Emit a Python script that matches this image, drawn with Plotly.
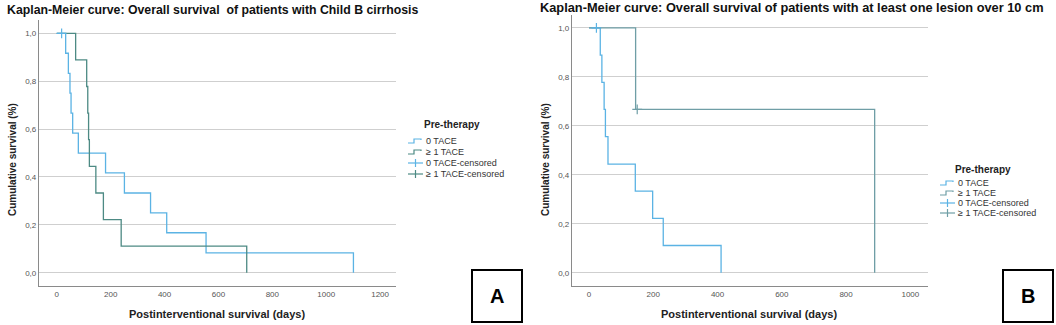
import plotly.graph_objects as go

W, H = 1056, 325

# ---------------- data ----------------
# Panel A: Child B cirrhosis
a_tace0_days = [0, 33, 43, 49, 53, 59, 80, 181, 251, 348, 408, 554, 1101]
a_tace0_surv = [1.0, 0.917, 0.833, 0.75, 0.667, 0.583, 0.5, 0.417, 0.333, 0.25, 0.167, 0.083, 0.0]
a_tace0_cens_days = [18]
a_tace0_cens_surv = [1.0]
a_tace1_days = [0, 70, 111, 115, 118, 121, 145, 173, 239, 705]
a_tace1_surv = [1.0, 0.889, 0.778, 0.667, 0.556, 0.444, 0.333, 0.222, 0.111, 0.0]

# Panel B: at least one lesion over 10 cm
b_tace0_days = [0, 35, 40, 47, 51, 59, 144, 198, 231, 411]
b_tace0_surv = [1.0, 0.889, 0.778, 0.667, 0.556, 0.444, 0.333, 0.222, 0.111, 0.0]
b_tace0_cens_days = [23]
b_tace0_cens_surv = [1.0]
b_tace1_days = [0, 145, 889]
b_tace1_surv = [1.0, 0.667, 0.0]
b_tace1_cens_days = [150]
b_tace1_cens_surv = [0.667]

y_tickvals = [0.0, 0.2, 0.4, 0.6, 0.8, 1.0]
y_ticktext = ["0,0", "0,2", "0,4", "0,6", "0,8", "1,0"]
a_xticks = [0, 200, 400, 600, 800, 1000, 1200]
b_xticks = [0, 200, 400, 600, 800, 1000]
legend_labels = ["0 TACE", "\u2265 1 TACE", "0 TACE-censored", "\u2265 1 TACE-censored"]

BLUE = "#5bb3e4"
GREEN_A = "#4d8a84"
GREEN_B = "#6f9ea6"
GRID = "#cfcfcf"
AXIS = "#8a8a8a"
FONT = "Liberation Sans, Arial, sans-serif"


def px(x):
    return x / W


def py(y):
    return 1 - y / H


fig = go.Figure()


def step(xs, ys, color, xa, ya):
    fig.add_trace(go.Scatter(x=xs, y=ys, mode="lines", line=dict(color=color, width=1.3, shape="hv"),
                             xaxis=xa, yaxis=ya, showlegend=False, hoverinfo="skip"))


def cens(xs, ys, color, xa, ya):
    fig.add_trace(go.Scatter(x=xs, y=ys, mode="markers",
                             marker=dict(symbol="cross-thin", size=7, line=dict(color=color, width=1.2)),
                             xaxis=xa, yaxis=ya, showlegend=False, hoverinfo="skip"))


step(a_tace0_days, a_tace0_surv, BLUE, "x", "y")
step(a_tace1_days, a_tace1_surv, GREEN_A, "x", "y")
cens(a_tace0_cens_days, a_tace0_cens_surv, BLUE, "x", "y")

step(b_tace0_days, b_tace0_surv, BLUE, "x2", "y2")
step(b_tace1_days, b_tace1_surv, GREEN_B, "x2", "y2")
cens(b_tace0_cens_days, b_tace0_cens_surv, BLUE, "x2", "y2")
cens(b_tace1_cens_days, b_tace1_cens_surv, GREEN_B, "x2", "y2")

tickfont = dict(family=FONT, size=8, color="#555555")
common_x = dict(showgrid=False, zeroline=False, showline=True, linecolor=AXIS, linewidth=1.3,
                ticks="", tickfont=tickfont, fixedrange=True)
common_y = dict(showgrid=True, gridcolor=GRID, gridwidth=1.3, zeroline=False, showline=True,
                linecolor=AXIS, linewidth=1.3, ticks="", tickfont=tickfont,
                tickvals=y_tickvals, ticktext=y_ticktext, fixedrange=True)

fig.update_layout(
    width=W, height=H,
    margin=dict(l=0, r=0, t=0, b=0),
    paper_bgcolor="white", plot_bgcolor="white",
    showlegend=False,
    xaxis=dict(common_x, domain=[px(39), px(396)], range=[-66, 1259], tickvals=a_xticks, anchor="y"),
    yaxis=dict(common_y, domain=[py(286), py(20)], range=[-0.0556, 1.056], anchor="x"),
    xaxis2=dict(common_x, domain=[px(572), px(928)], range=[-53, 1055], tickvals=b_xticks, anchor="y2"),
    yaxis2=dict(common_y, domain=[py(286), py(15)], range=[-0.0544, 1.053], anchor="x2"),
)

ann = []
shapes = []


def text(x, y, s, size, bold=False, xanchor="center", angle=0, color="#222222"):
    ann.append(dict(x=px(x), y=py(y), xref="paper", yref="paper", text=("<b>%s</b>" % s) if bold else s,
                    showarrow=False, xanchor=xanchor, yanchor="middle", textangle=angle,
                    font=dict(family=FONT, size=size, color=color)))


# titles
text(5, 10, "Kaplan-Meier curve: Overall survival  of patients with Child B cirrhosis", 12.3, True, "left", color="#111111")
text(538, 8, "Kaplan-Meier curve: Overall survival of patients with at least one lesion over 10 cm", 12.8, True, "left", color="#111111")
# axis titles
text(217, 314, "Postinterventional survival (days)", 11, True)
text(749, 314, "Postinterventional survival (days)", 11, True)
text(12, 160, "Cumulative survival (%)", 10, True, angle=-90)
text(545, 160, "Cumulative survival (%)", 10, True, angle=-90)


def legend(cx_title, ty, x0, rows, colors):
    text(cx_title, ty, "Pre-therapy", 10, True)
    for i, (lab, yy) in enumerate(zip(legend_labels, rows)):
        c = colors[i]
        if i < 2:
            path = "M %f %f L %f %f L %f %f L %f %f L %f %f" % (
                px(x0), py(yy + 2), px(x0 + 6), py(yy + 2), px(x0 + 6), py(yy - 2),
                px(x0 + 13), py(yy - 2), px(x0 + 13), py(yy - 1))
            shapes.append(dict(type="path", path=path, xref="paper", yref="paper",
                               line=dict(color=c, width=1.2)))
        else:
            shapes.append(dict(type="line", x0=px(x0), x1=px(x0 + 15), y0=py(yy), y1=py(yy),
                               xref="paper", yref="paper", line=dict(color=c, width=1.2)))
            shapes.append(dict(type="line", x0=px(x0 + 7.5), x1=px(x0 + 7.5), y0=py(yy - 4), y1=py(yy + 4),
                               xref="paper", yref="paper", line=dict(color=c, width=1.2)))
        text(x0 + 16, yy, lab, 9, False, "left", color="#333333")


legend(452, 125, 408, [141, 152, 163, 174], [BLUE, GREEN_A, BLUE, GREEN_A])
legend(983, 169, 940, [183, 193, 203, 213], [BLUE, GREEN_B, BLUE, GREEN_B])

# panel boxes
for x0, lab in [(472, "A"), (1003, "B")]:
    shapes.append(dict(type="rect", x0=px(x0), x1=px(x0 + 50), y0=py(322), y1=py(270),
                       xref="paper", yref="paper", line=dict(color="black", width=2)))
    text(x0 + 25, 296, lab, 20, True, color="black")

fig.update_layout(annotations=ann, shapes=shapes)
fig.write_html("out.html", config={"displayModeBar": False},
               post_script="document.body.style.margin='0';document.body.style.overflow='hidden';")
